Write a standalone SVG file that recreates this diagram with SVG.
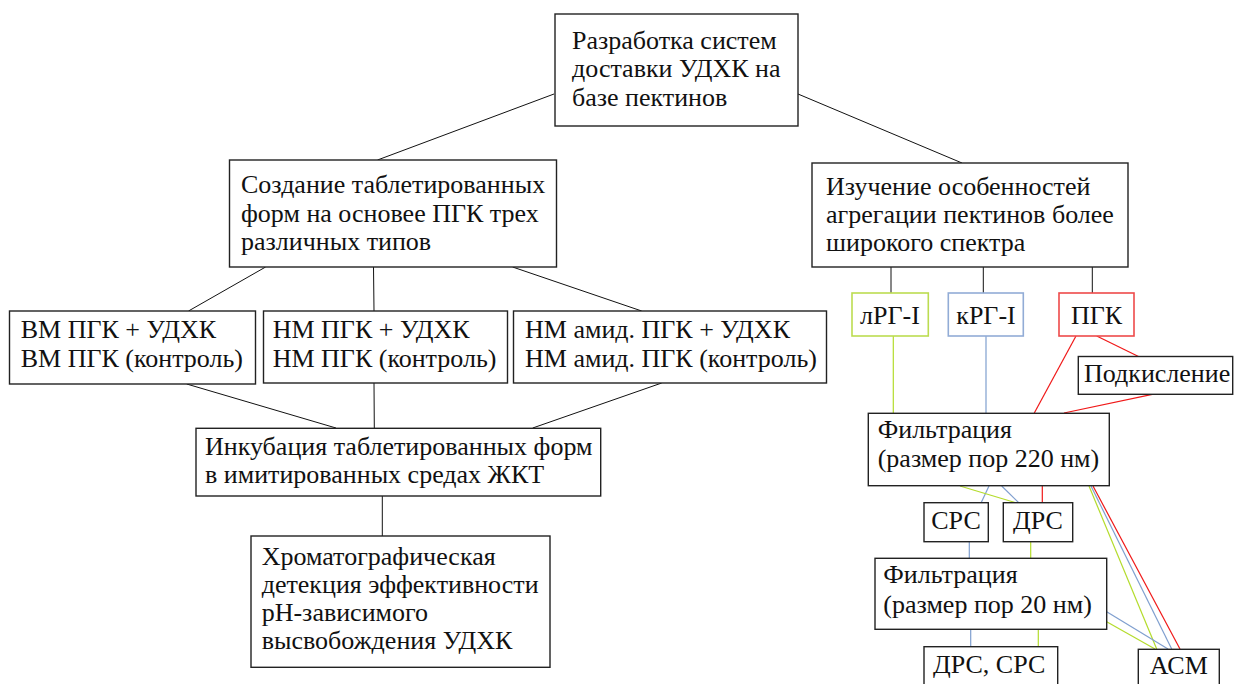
<svg xmlns="http://www.w3.org/2000/svg" width="1234" height="684" viewBox="0 0 1234 684">
<style>
.b{fill:#fff;stroke:#222;stroke-width:1.4}
.g{fill:#fff;stroke:#bcdc50;stroke-width:1.6}
.u{fill:#fff;stroke:#92acd6;stroke-width:1.6}
.r{fill:#fff;stroke:#ee4a4a;stroke-width:1.6}
text{font-family:'Liberation Serif','Times New Roman',serif;font-size:26px;fill:#111}
.c{text-anchor:middle}
.k line{stroke:#111;stroke-width:1}
line.lg{stroke:#b4dc2c;stroke-width:1.2}
line.lb{stroke:#7f9fcf;stroke-width:1.2}
line.lr{stroke:#f01818;stroke-width:1.2}
</style>
<rect width="1234" height="684" fill="#fff"/>
<g id="connectors">
<g class="k">
<line x1="554" y1="94" x2="377.5" y2="160"/>
<line x1="798" y1="94" x2="962" y2="163"/>
<line x1="265.6" y1="267" x2="188.5" y2="311"/>
<line x1="373.5" y1="267" x2="374" y2="311"/>
<line x1="512.6" y1="267" x2="641.7" y2="311"/>
<line x1="186.7" y1="384" x2="336" y2="428"/>
<line x1="374" y1="383" x2="374.3" y2="428"/>
<line x1="661.7" y1="383" x2="532.7" y2="428"/>
<line x1="382.3" y1="496" x2="382.3" y2="536"/>
<line x1="891" y1="267" x2="891" y2="293"/>
<line x1="983.3" y1="267" x2="983.3" y2="293"/>
<line x1="1092.3" y1="267" x2="1092.3" y2="293"/>
</g>
<line class="lg" x1="893.3" y1="336" x2="893.3" y2="413"/>
<line class="lb" x1="986" y1="336" x2="986" y2="413"/>
<line class="lr" x1="1076" y1="336" x2="1034.3" y2="413"/>
<line class="lr" x1="1096.7" y1="336" x2="1139" y2="356.7"/>
<line class="lr" x1="1152.3" y1="394.3" x2="1064" y2="413"/>
<line class="lb" x1="989" y1="486" x2="981" y2="503"/>
<line class="lb" x1="1001.7" y1="486" x2="1019" y2="503"/>
<line class="lg" x1="960" y1="486" x2="1016.7" y2="503"/>
<line class="lr" x1="1042.3" y1="486" x2="1042.3" y2="503"/>
<line class="lg" x1="1089" y1="486" x2="1156.7" y2="649"/>
<line class="lb" x1="1091" y1="486" x2="1171.7" y2="649"/>
<line class="lr" x1="1093" y1="486" x2="1180" y2="649"/>
<line class="lb" x1="969.3" y1="542" x2="969.3" y2="558"/>
<line class="lg" x1="1030.7" y1="542" x2="1030.7" y2="558"/>
<line class="lb" x1="970.7" y1="629" x2="970.7" y2="647"/>
<line class="lg" x1="1038.3" y1="629" x2="1038.3" y2="647"/>
<line class="lb" x1="1106.7" y1="611.7" x2="1168" y2="649"/>
<line class="lg" x1="1106.7" y1="621.7" x2="1155" y2="649"/>
</g>
<g id="root"><rect class="b" x="555" y="14" width="243" height="112"/>
<text x="572" y="48.5">Разработка систем</text><text x="572" y="77">доставки УДХК на</text><text x="572" y="106">базе пектинов</text></g>
<g id="tablets"><rect class="b" x="229.5" y="160" width="327" height="107"/>
<text x="241" y="193">Создание таблетированных</text><text x="241" y="222">форм на основее ПГК трех</text><text x="241" y="250">различных типов</text></g>
<g id="aggregation"><rect class="b" x="812" y="163" width="316" height="104"/>
<text x="826" y="195">Изучение особенностей</text><text x="826" y="223">агрегации пектинов более</text><text x="826" y="251">широкого спектра</text></g>
<g id="vm"><rect class="b" x="9.5" y="311" width="246" height="73"/>
<text x="20.7" y="338.3">ВМ ПГК + УДХК</text><text x="20.7" y="366.7">ВМ ПГК (контроль)</text></g>
<g id="nm"><rect class="b" x="263.5" y="311" width="244" height="72"/>
<text x="272.7" y="338.3">НМ ПГК + УДХК</text><text x="272.7" y="366.7">НМ ПГК (контроль)</text></g>
<g id="nmamid"><rect class="b" x="513.5" y="311" width="313" height="72"/>
<text x="525" y="338.3">НМ амид. ПГК + УДХК</text><text x="525" y="366.7">НМ амид. ПГК (контроль)</text></g>
<g id="incubation"><rect class="b" x="196" y="428.3" width="404.7" height="67.7"/>
<text x="205" y="455">Инкубация таблетированных форм</text><text x="205" y="483">в имитированных средах ЖКТ</text></g>
<g id="chromatography"><rect class="b" x="251" y="536" width="299" height="131.3"/>
<text x="261.7" y="565">Хроматографическая</text><text x="261.7" y="593">детекция эффективности</text><text x="261.7" y="621">рН-зависимого</text><text x="261.7" y="649">высвобождения УДХК</text></g>
<g id="lrg"><rect class="g" x="852" y="293" width="76.3" height="43"/><text class="c" x="890" y="324">лРГ-I</text></g>
<g id="krg"><rect class="u" x="948.3" y="293" width="75" height="43"/><text class="c" x="986" y="324">кРГ-I</text></g>
<g id="pgk"><rect class="r" x="1059" y="293" width="75" height="43"/><text class="c" x="1096.5" y="324">ПГК</text></g>
<g id="acid"><rect class="b" x="1078.3" y="356.5" width="154.4" height="37.8"/><text x="1084" y="381.7">Подкисление</text></g>
<g id="filt220"><rect class="b" x="868.3" y="413.3" width="241" height="72.4"/>
<text x="877.7" y="438.3">Фильтрация</text><text x="877.7" y="467">(размер пор 220 нм)</text></g>
<g id="srs"><rect class="b" x="924" y="502.7" width="64.3" height="39"/><text class="c" x="956" y="529.3">СРС</text></g>
<g id="drs"><rect class="b" x="1003.3" y="502.7" width="69.4" height="39"/><text class="c" x="1038" y="529.3">ДРС</text></g>
<g id="filt20"><rect class="b" x="875" y="558.3" width="231.7" height="71"/>
<text x="883.3" y="583.3">Фильтрация</text><text x="883.3" y="612.7">(размер пор 20 нм)</text></g>
<g id="drssrs"><rect class="b" x="924" y="646.7" width="133.7" height="60"/><text x="933" y="673">ДРС, СРС</text></g>
<g id="asm"><rect class="b" x="1138.3" y="649.3" width="81" height="60"/><text class="c" x="1178.8" y="674">АСМ</text></g>
</svg>
